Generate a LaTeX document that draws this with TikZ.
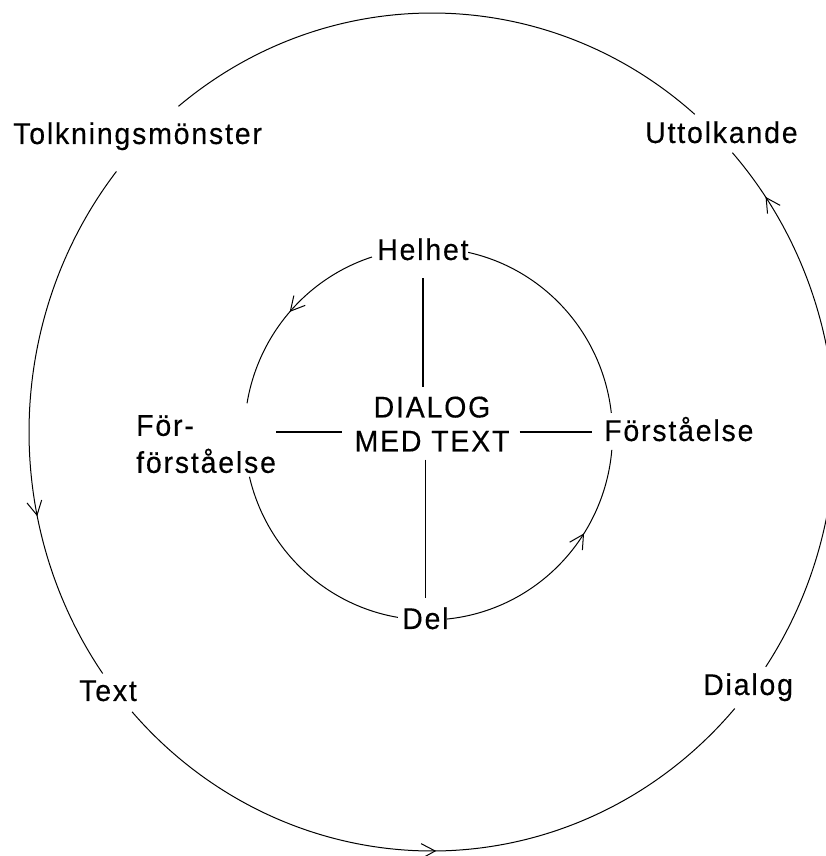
\documentclass[tikz,border=0pt]{standalone}
\usepackage{fontspec}
\setmainfont{Liberation Sans}[LetterSpace=6, FakeStretch=0.95, FakeBold=0.3]
\usetikzlibrary{arrows.meta,decorations.markings,calc}

\begin{document}
\begin{tikzpicture}[x=1pt,y=1pt,
  lbl/.style={inner sep=0pt, font=\fontsize{30}{35}\selectfont},
  ring/.style={line width=1pt},
  cross/.style={line width=1.3pt},
  arrowat/.style={postaction={decorate},
    decoration={markings, mark=at position #1 with
      {\arrow[line width=1pt]{Straight Barb[length=14pt,width=15pt]}}}}
]
\useasboundingbox[fill=white] (0,0) rectangle (826,856);

% centres of the two rings
\coordinate (O) at (432,424);
\coordinate (I) at (428.5,422);

% outer ring labels
\node[lbl, anchor=base west] (tolk) at (13,712) {Tolkningsmönster};
\node[lbl, anchor=base west] (utt)  at (645,713) {Uttolkande};
\node[lbl, anchor=base west] (text) at (79,155) {Text};
\node[lbl, anchor=base west] (dial) at (703,161) {Dialog};

% inner ring labels
\node[lbl, anchor=base west] (helhet) at (377,596) {Helhet};
\node[lbl, anchor=base west] (del)    at (402,227) {Del};
\node[lbl, anchor=base west] (forst)  at (604,415) {Förståelse};
\node[lbl, anchor=north west, align=left, font=\fontsize{30}{37}\selectfont]
  (forfor) at (136,441) {För-\\förståelse};
\node[lbl, align=center, font=\fontsize{30}{34}\selectfont]
  (centre) at (432,432) {DIALOG\\MED TEXT};

% outer ring: Tolkningsmönster -> Text -> Dialog -> Uttolkande -> Tolkningsmönster
\draw[ring, arrowat=0.68] ($(O)+(141.55:403 and 419)$)
  arc[start angle=141.55, end angle=215.2, x radius=403, y radius=419];
\draw[ring, arrowat=0.503] ($(O)+(221.9:403 and 419)$)
  arc[start angle=221.9, end angle=318.7, x radius=403, y radius=419];
\draw[ring, arrowat=0.9] ($(O)+(325.9:403 and 419)$)
  arc[start angle=325.9, end angle=401.8, x radius=403, y radius=419];
\draw[ring] ($(O)+(49.3:403 and 419)$)
  arc[start angle=49.3, end angle=129.0, x radius=403, y radius=419];

% inner ring: Helhet -> För-förståelse -> Del -> Förståelse -> Helhet
\draw[ring, arrowat=0.495] ($(I)+(107.9:184 and 186)$)
  arc[start angle=107.9, end angle=170.5, x radius=184, y radius=186];
\draw[ring] ($(I)+(193.3:184 and 186)$)
  arc[start angle=193.3, end angle=260.4, x radius=184, y radius=186];
\draw[ring, arrowat=0.653] ($(I)+(275.8:184 and 186)$)
  arc[start angle=275.8, end angle=355.1, x radius=184, y radius=186];
\draw[ring] ($(I)+(6.5:184 and 186)$)
  arc[start angle=6.5, end angle=77.55, x radius=184, y radius=186];

% cross through the centre
\coordinate (hy) at (0,424);
\draw[cross, shorten <=18pt, shorten >=9pt] (helhet.south) -- (helhet.south |- centre.north);
\draw[cross, shorten <=8pt, shorten >=9pt] (del.north |- centre.south) -- (del.north);
\draw[cross, shorten >=12pt] (forfor.east |- hy) -- (centre.west |- hy);
\draw[cross, shorten <=10pt, shorten >=12pt] (centre.east |- hy) -- (forst.west |- hy);
\end{tikzpicture}
\end{document}
